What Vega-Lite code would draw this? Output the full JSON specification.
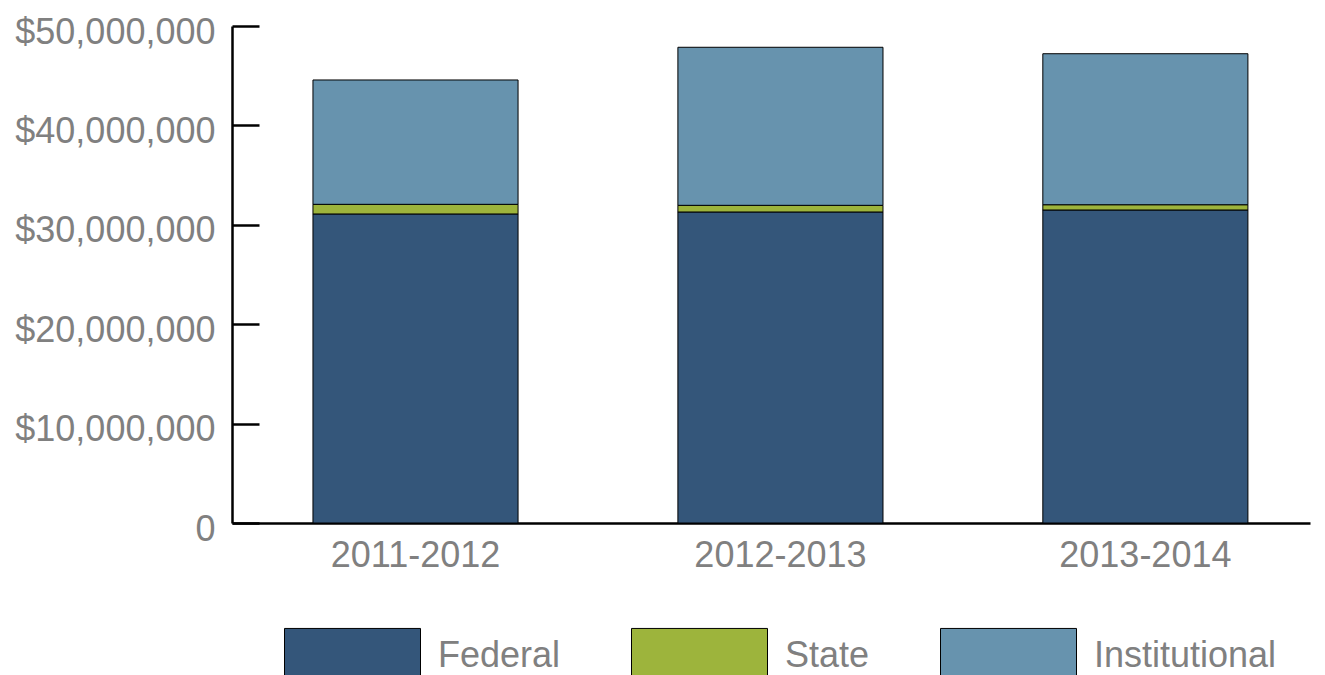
{
  "$schema": "https://vega.github.io/schema/vega-lite/v6.json",
  "width": 1078,
  "height": 497,
  "autosize": {"type": "none"},
  "padding": {"left": 232, "top": 26, "right": 15, "bottom": 152},
  "background": "white",
  "config": {"view": {"stroke": null}, "font": "Liberation Sans"},
  "data": {
    "values": [
      {"year": "2011-2012", "source": "Federal", "amount": 31090000},
      {"year": "2011-2012", "source": "State", "amount": 970000},
      {"year": "2011-2012", "source": "Institutional", "amount": 12510000},
      {"year": "2012-2013", "source": "Federal", "amount": 31290000},
      {"year": "2012-2013", "source": "State", "amount": 670000},
      {"year": "2012-2013", "source": "Institutional", "amount": 15900000},
      {"year": "2013-2014", "source": "Federal", "amount": 31490000},
      {"year": "2013-2014", "source": "State", "amount": 530000},
      {"year": "2013-2014", "source": "Institutional", "amount": 15190000}
    ]
  },
  "transform": [
    {"calculate": "indexof(['Federal', 'State', 'Institutional'], datum.source)", "as": "stackOrder"}
  ],
  "mark": {"type": "bar", "stroke": "black", "strokeWidth": 1},
  "encoding": {
    "x": {
      "field": "year",
      "type": "nominal",
      "scale": {"paddingInner": 0.438, "paddingOuter": 0.196, "align": 0.566},
      "axis": {
        "title": null,
        "labelAngle": 0,
        "ticks": false,
        "domainColor": "black",
        "domainWidth": 2.5,
        "labelFontSize": 36,
        "labelColor": "#808080",
        "labelPadding": 15
      }
    },
    "y": {
      "field": "amount",
      "type": "quantitative",
      "stack": "zero",
      "scale": {"domain": [0, 50000000]},
      "axis": {
        "title": null,
        "grid": false,
        "values": [0, 10000000, 20000000, 30000000, 40000000, 50000000],
        "labelExpr": "datum.value == 0 ? '0' : '$' + format(datum.value, ',')",
        "tickSize": -27,
        "tickColor": "black",
        "tickWidth": 2.5,
        "labelPadding": 44,
        "labelOffset": 6,
        "labelLimit": 400,
        "labelFontSize": 36,
        "labelColor": "#808080",
        "domainColor": "black",
        "domainWidth": 2.5
      }
    },
    "color": {
      "field": "source",
      "type": "nominal",
      "sort": ["Federal", "State", "Institutional"],
      "scale": {
        "domain": ["Federal", "State", "Institutional"],
        "range": ["#34567a", "#9db43c", "#6793ae"]
      },
      "legend": {
        "orient": "none",
        "legendX": 52,
        "legendY": 561,
        "direction": "horizontal",
        "title": null,
        "symbolType": "M-1,-0.4H1V0.4H-1Z",
        "symbolSize": 18496,
        "symbolStrokeColor": "black",
        "symbolStrokeWidth": 1,
        "symbolOpacity": 1,
        "labelFontSize": 36,
        "labelColor": "#808080",
        "labelOffset": 17,
        "labelLimit": 400,
        "columnPadding": 68
      }
    },
    "order": {"field": "stackOrder", "type": "quantitative", "sort": "ascending"}
  }
}
